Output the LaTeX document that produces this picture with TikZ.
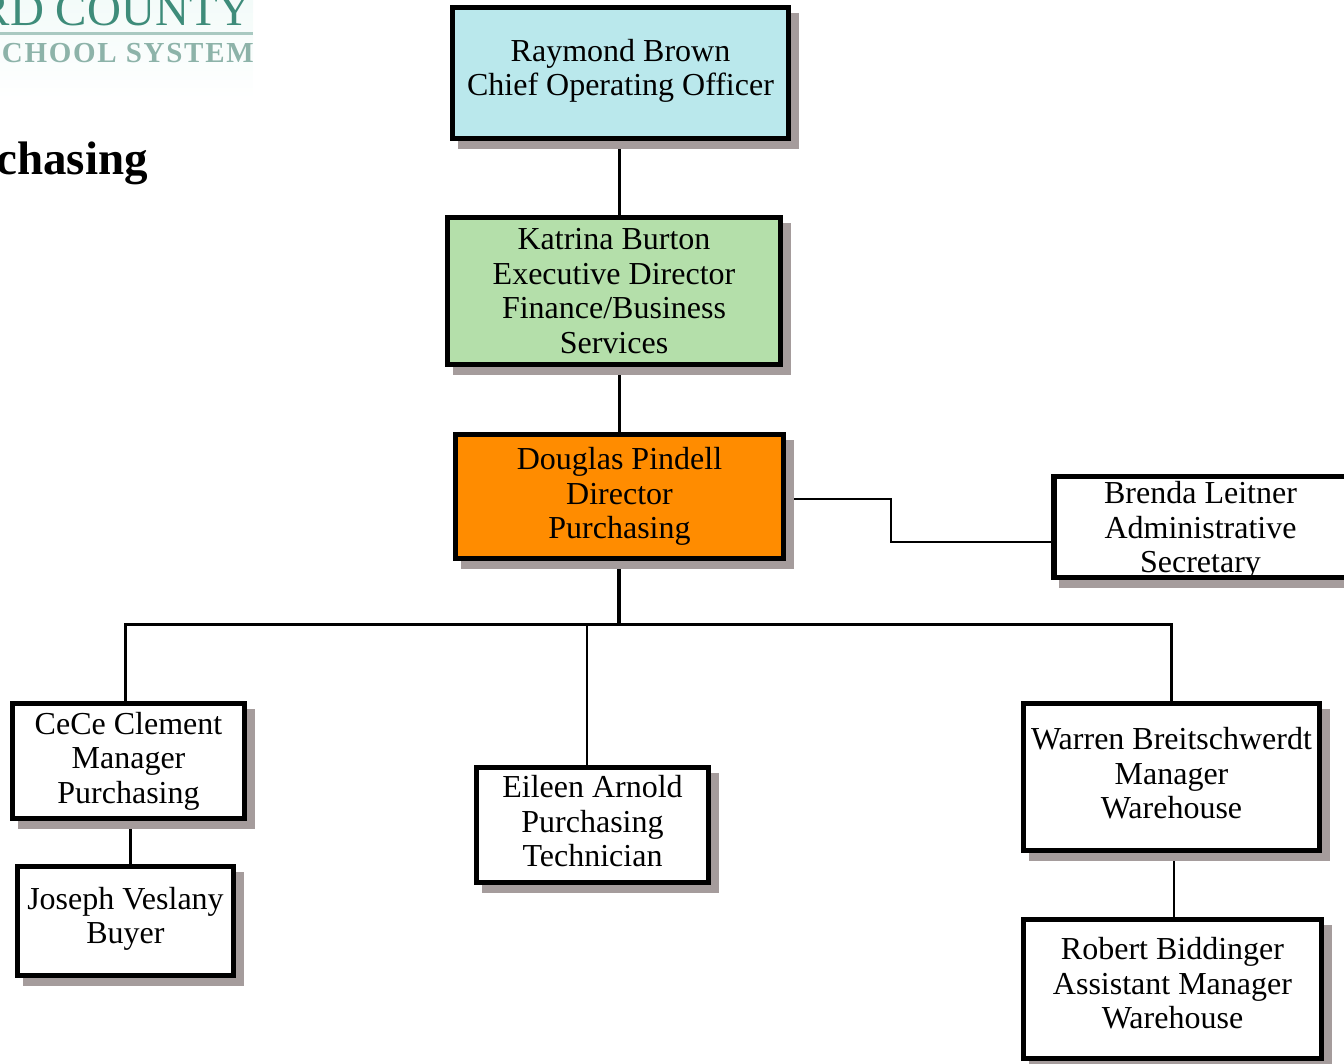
\documentclass[tikz,border=0pt]{standalone}
\usepackage{fontspec}
\setmainfont{Liberation Serif}
\usetikzlibrary{shadows,backgrounds}
\definecolor{shadowgrey}{HTML}{A59C9C}
\definecolor{cooblue}{HTML}{BAE8EC}
\definecolor{dirgreen}{HTML}{B4DFAA}
\definecolor{purorange}{HTML}{FF8C00}
\definecolor{logoteal}{HTML}{3E8C7A}
\definecolor{logopale}{HTML}{8DB3A9}
\definecolor{logoline}{HTML}{A9C9C1}
\definecolor{logotint}{HTML}{F3FBF9}
\newcommand{\padbot}[1]{\rule[-#1pt]{0pt}{#1pt}}
\begin{document}
\begin{tikzpicture}[
    x=1pt,y=-1pt,
    person/.style={%
      draw,
      rectangle,
      line width=5.5pt,
      fill=white,
      inner sep=0pt,
      align=center,
      font=\fontsize{32}{34.6}\selectfont,
      drop shadow={shadow xshift=8pt,shadow yshift=-8pt,fill=shadowgrey,draw=shadowgrey,line width=5.5pt,opacity=1},
    },
    link/.style={%
      draw,
      line width=2.5pt,
    },
  ]
    \clip (0,0) rectangle (1344,1063);
    % logo and heading, cut by the page edge
    \shade [top color=logotint,bottom color=white] (0,0) rectangle (253,100);
    \node [anchor=base east,inner sep=0pt,text=logoteal,font=\fontsize{47}{47}\selectfont] (county) at (252,25) {RD COUNTY};
    \node [anchor=base east,inner sep=0pt,text=logopale,font=\bfseries\fontsize{29}{29}\selectfont\addfontfeatures{LetterSpace=6}] (system) at (254,62) {CHOOL SYSTEM};
    \draw [logoline,line width=3pt] (0,33) -- (253,33);
    \node [anchor=base east,inner sep=0pt,font=\bfseries\fontsize{47}{47}\selectfont] (heading) at (148,174) {chasing};
    % boxes
    \node [person,fill=cooblue,minimum width=336pt,minimum height=131pt] (raymond) at (620.5,73) {Raymond Brown\\Chief Operating Officer\padbot{11}};
    \path (raymond) ++(-6.5,218) node [person,fill=dirgreen,minimum width=333pt,minimum height=147pt] (katrina) {Katrina Burton\\Executive Director\\Finance/Business\\Services};
    \path (raymond) ++(-1,423.5) node [person,fill=purorange,minimum width=328pt,minimum height=124pt] (douglas) {Douglas Pindell\\Director\\Purchasing};
    \path (douglas) ++(581,30.5) node [person,minimum width=293pt,minimum height=101pt] (brenda) {Brenda Leitner\\Administrative\\\smash{Secretary}};
    \path (douglas) ++(-491,264.5) node [person,minimum width=232pt,minimum height=115pt] (cece) {CeCe Clement\\Manager\\Purchasing};
    \path (cece) ++(-3,160) node [person,minimum width=216pt,minimum height=109pt] (joseph) {Joseph Veslany\\Buyer\padbot{11}};
    \path (douglas) ++(-27,328.5) node [person,minimum width=232pt,minimum height=115pt] (eileen) {Eileen Arnold\\Purchasing\\Technician\padbot{8}};
    \path (douglas) ++(552,280.5) node [person,minimum width=296pt,minimum height=147pt] (warren) {Warren Breitschwerdt\\Manager\\Warehouse\padbot{8}};
    \path (warren) ++(1,212) node [person,minimum width=298pt,minimum height=139pt] (robert) {Robert Biddinger\\Assistant Manager\\Warehouse\padbot{12}};
    % connectors
    \coordinate (bus) at (619,624.5);
    \coordinate (elbow) at (891,520);
    \begin{scope}[on background layer]
      \draw [link,line width=3pt] ([xshift=-1.5pt]raymond.center) -- ([xshift=5pt]katrina.center);
      \draw [link,line width=3pt] ([xshift=5pt]katrina.center) -- ([xshift=-.5pt]douglas.center);
      \draw [link,line width=3.5pt] ([xshift=-.5pt]douglas.center) -- (bus);
      \draw [link] ([yshift=-2.5pt]douglas.center) -| (elbow) |- ([yshift=-15pt]brenda.center);
      \draw [link] ([xshift=-3pt]cece.center) |- (bus);
      \draw [link] ([xshift=-5.5pt]eileen.center) -- ([xshift=-5.5pt]eileen.center |- bus);
      \draw [link] (warren.center) |- (bus);
      \draw [link] ([xshift=2.5pt]warren.center) -- ([xshift=2.5pt]warren.center |- robert.center);
      \draw [link] ([xshift=2pt]cece.center) -- ([xshift=2pt]cece.center |- joseph.center);
    \end{scope}
\end{tikzpicture}
\end{document}
